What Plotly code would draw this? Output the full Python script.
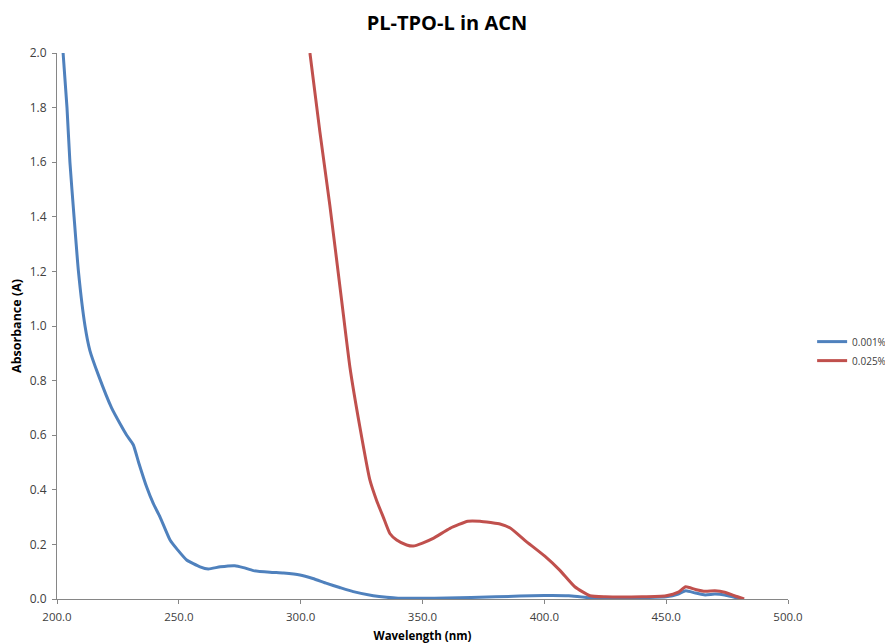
import plotly.graph_objects as go

wl_low = [202.5, 204.1, 205.3, 207.0, 208.8, 211.5, 213.5, 217.0, 222.4, 226.0, 228.6,
          231.3, 233.5, 236.8, 239.5, 242.3, 246.4, 249.5, 253.2, 258.7, 262.1, 267.0, 273.0,
          276.5, 280.6, 287.4, 293.0, 299.7, 305.0, 310.7, 316.0, 321.6, 329.8, 335.3, 340.0,
          360.0, 380.0, 400.0, 410.0, 418.0, 440.0, 450.0, 455.0, 458.0, 462.0, 466.0, 470.0,
          474.0, 478.0, 481.0]
abs_low = [2.0, 1.8, 1.6, 1.4, 1.2, 1.0, 0.91, 0.82, 0.70, 0.64, 0.60,
           0.565, 0.50, 0.41, 0.35, 0.30, 0.216, 0.18, 0.143, 0.118, 0.11, 0.118, 0.122,
           0.115, 0.104, 0.098, 0.095, 0.088, 0.075, 0.057, 0.042, 0.027, 0.012, 0.006, 0.003,
           0.004, 0.008, 0.013, 0.012, 0.005, 0.005, 0.008, 0.018, 0.03, 0.022, 0.015, 0.018,
           0.015, 0.006, 0.0]

wl_high = [303.8, 307.9, 312.0, 316.8, 320.2, 324.3, 328.4, 331.2, 333.9, 336.6, 339.4, 343.5,
           346.2, 350.0, 354.4, 361.3, 368.6, 373.6, 378.0, 381.8, 386.0, 392.0, 400.2, 406.4,
           412.5, 418.7, 425.0, 440.0, 450.0, 455.0, 458.0, 462.0, 466.0, 470.0, 474.0, 478.0,
           482.0]
abs_high = [2.0, 1.71, 1.44, 1.095, 0.85, 0.63, 0.436, 0.36, 0.30, 0.24, 0.216, 0.198,
            0.194, 0.205, 0.222, 0.259, 0.285, 0.285, 0.28, 0.275, 0.26, 0.215, 0.157, 0.105,
            0.045, 0.012, 0.008, 0.008, 0.012, 0.025, 0.045, 0.035, 0.028, 0.03, 0.025, 0.012,
            0.0]

x_ticks = [200, 250, 300, 350, 400, 450, 500]
y_ticks = [0.0, 0.2, 0.4, 0.6, 0.8, 1.0, 1.2, 1.4, 1.6, 1.8, 2.0]

FONT = "Open Sans"
fig = go.Figure()
fig.add_trace(go.Scatter(x=wl_low, y=abs_low, mode="lines", name="0.001%",
                         line=dict(color="#4f81bd", width=3, shape="spline", smoothing=0.5)))
fig.add_trace(go.Scatter(x=wl_high, y=abs_high, mode="lines", name="0.025%",
                         line=dict(color="#c0504d", width=3, shape="spline", smoothing=0.5)))

fig.update_layout(
    width=885, height=635,
    margin=dict(l=49, r=105, t=45, b=44, autoexpand=False),
    paper_bgcolor="white", plot_bgcolor="white",
    font=dict(family=FONT, size=11, color="#404040"),
    title=dict(text="<b>PL-TPO-L in ACN</b>", x=0.496, xanchor="center", xref="container",
               y=0.976, yanchor="middle",
               font=dict(family=FONT, size=20, color="#000000")),
    showlegend=True,
    legend=dict(x=1.033, xanchor="left", y=0.454, yanchor="middle", borderwidth=0,
                itemwidth=30,
                font=dict(family=FONT, size=10, color="#404040")),
    xaxis=dict(range=[200, 500], tickvals=x_ticks, ticktext=[f"{v:.1f}" for v in x_ticks],
               showgrid=False, zeroline=False, showline=True, linecolor="#868686", linewidth=1,
               ticks="outside", ticklen=4, tickcolor="#868686", ticklabelstandoff=3,
               automargin=False, tickfont=dict(size=11.5),
               title=dict(text="<b>Wavelength (nm)</b>", standoff=13,
                          font=dict(family=FONT, size=11.5, color="#000000"))),
    yaxis=dict(range=[0, 2.0], tickvals=y_ticks, ticktext=[f"{v:.1f}" for v in y_ticks],
               showgrid=False, zeroline=False, showline=True, linecolor="#868686", linewidth=1,
               ticks="outside", ticklen=4, tickcolor="#868686", ticklabelstandoff=3,
               automargin=False, tickfont=dict(size=12),
               title=dict(text="<b>Absorbance (A)</b>", standoff=6,
                          font=dict(family=FONT, size=12.5, color="#000000"))),
)

fig.write_html("out.html")
